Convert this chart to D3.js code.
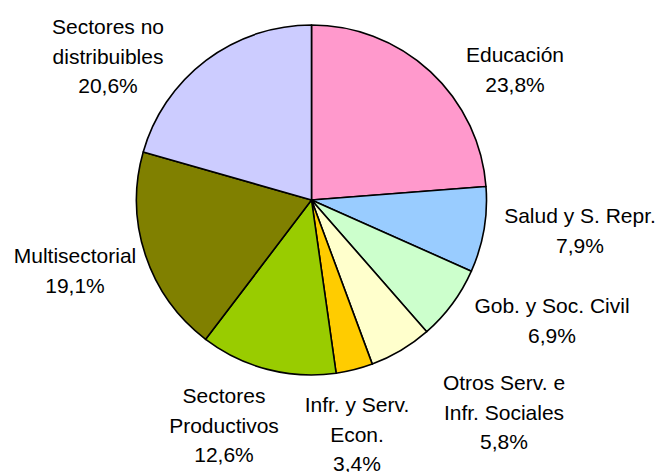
<!DOCTYPE html>
<html><head><meta charset="utf-8">
<script src="https://cdn.jsdelivr.net/npm/d3@7"></script>
<style>body{margin:0;background:#fff}svg{display:block}text{font-family:"Liberation Sans",Arial,sans-serif;font-size:21px;fill:#000}</style>
</head><body>
<script>
const categories = [
  ["Educación"],
  ["Salud y S. Repr."],
  ["Gob. y Soc. Civil"],
  ["Otros Serv. e", "Infr. Sociales"],
  ["Infr. y Serv.", "Econ."],
  ["Sectores", "Productivos"],
  ["Multisectorial"],
  ["Sectores no", "distribuibles"]
];
const values = [23.8, 7.9, 6.9, 5.8, 3.4, 12.6, 19.1, 20.6];
const valueLabels = ["23,8%", "7,9%", "6,9%", "5,8%", "3,4%", "12,6%", "19,1%", "20,6%"];
const colors = ["#FF99CC", "#99CCFF", "#CCFFCC", "#FFFFCC", "#FFCC00", "#99CC00", "#808000", "#CCCCFF"];

// layout: label anchor (center x, first baseline y)
const labelPos = [[515, 62], [580, 223], [552, 313], [504, 390], [357, 412], [224, 403], [75, 263], [108, 34]];

const W = 660, H = 472, cx = 311.5, cy = 200, R = 175, lineH = 29.5;
const svg = d3.select("body").append("svg").attr("width", W).attr("height", H);
const pie = d3.pie().sort(null).value(d => d)(values);
const arc = d3.arc().innerRadius(0).outerRadius(R);
const g = svg.append("g").attr("transform", `translate(${cx},${cy})`);
g.selectAll("path").data(pie).join("path")
  .attr("d", arc).attr("fill", (d, i) => colors[i])
  .attr("stroke", "#000").attr("stroke-width", 1.6).attr("stroke-linejoin", "round");

const lab = svg.append("g");
categories.forEach((lines, i) => {
  const t = lab.append("text").attr("text-anchor", "middle");
  lines.concat([valueLabels[i]]).forEach((s, k) => {
    t.append("tspan").attr("x", labelPos[i][0]).attr("y", labelPos[i][1] + k * lineH).text(s);
  });
});
</script>
</body></html>
